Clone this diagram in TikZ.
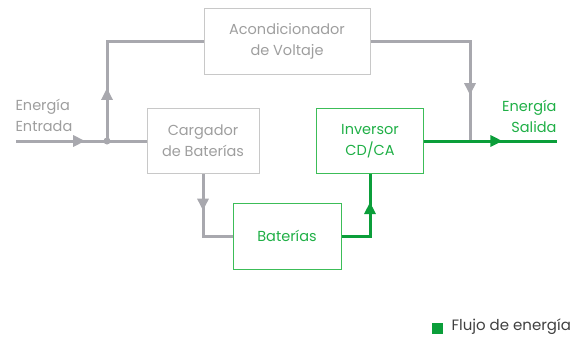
\documentclass[tikz,border=0pt]{standalone}
\usepackage{fontspec}
\setmainfont{Poppins}
\usetikzlibrary{arrows.meta,decorations.markings}
\definecolor{linegray}{HTML}{A8A8AE}
\definecolor{boxgray}{HTML}{C8C8C8}
\definecolor{textgray}{HTML}{9E9E9E}
\definecolor{boxgreen}{HTML}{3CBD58}
\definecolor{flowgreen}{HTML}{0B9E3A}
\definecolor{textgreen}{HTML}{1FAF46}
\tikzset{
  block/.style={draw=boxgray, line width=1pt, text=textgray, align=center,
    font=\fontsize{14.5}{21}\selectfont},
  greenblock/.style={block, draw=boxgreen, text=textgreen},
  grayflow/.style={draw=linegray, line width=3pt},
  greenflow/.style={draw=flowgreen, line width=3pt},
  midarrow/.style={postaction={decorate}, decoration={markings,
    mark=at position #1 with {\arrow{Triangle[length=12pt,width=11pt]}}}}
}
\begin{document}
\begin{tikzpicture}[x=1pt, y=-1pt]
\useasboundingbox (0,0) rectangle (580,341);
\node[block, minimum width=166pt, minimum height=66pt] (acond) at (287,41) {Acondicionador\\de Voltaje};
\node[block, minimum width=112pt, minimum height=65pt] (carg) at (203,141) {Cargador\\de Baterías};
\node[greenblock, minimum width=107pt, minimum height=65pt] (inv) at (370,141) {Inversor\\CD/CA};
\node[greenblock, minimum width=108pt, minimum height=66pt] (bat) at (287,236) {Baterías};
\node[text=textgray, align=left, anchor=west, font=\fontsize{14.5}{21}\selectfont] (ein) at (12,115) {Energía\\Entrada};
\node[text=textgreen, align=right, anchor=east, font=\fontsize{14.5}{21}\selectfont] (eout) at (560,116) {Energía\\Salida};
\coordinate (src) at (16,141);
\coordinate (jn) at (107,141);
\coordinate (jo) at (470,141);
\coordinate (dst) at (557,141);
\draw[grayflow, midarrow=0.53] (src) -- (carg.west);
\draw[grayflow, midarrow=0.27] (jn) |- (acond.west);
\draw[grayflow, midarrow=0.77] (acond.east) -| (jo);
\draw[grayflow, midarrow=0.40] (carg.south) |- (bat.west);
\draw[greenflow, midarrow=0.69] (bat.east) -| (inv.south);
\draw[greenflow, midarrow=0.59] (inv.east) -- (dst);
\fill[linegray] (jn) circle (3.5pt);
\node[fill=flowgreen, minimum size=11pt, inner sep=0pt] (key) at (437.5,328) {};
\node[anchor=west, text=black!75, font=\fontsize{15}{21}\selectfont] (keytext) at (448,327) {Flujo de energía};
\end{tikzpicture}
\end{document}
